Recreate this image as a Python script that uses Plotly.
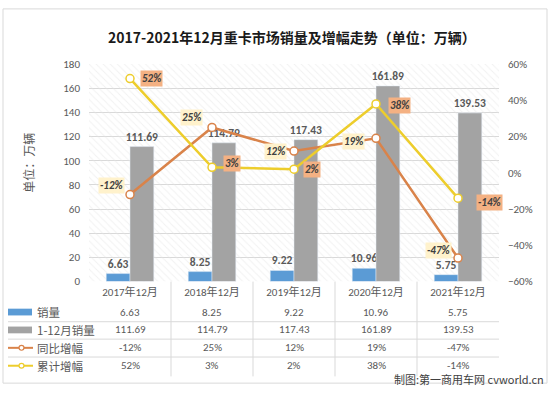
import plotly.graph_objects as go

# ---------------- data ----------------
categories = ["2017年12月", "2018年12月", "2019年12月", "2020年12月", "2021年12月"]
sales_dec = [6.63, 8.25, 9.22, 10.96, 5.75]
sales_ytd = [111.69, 114.79, 117.43, 161.89, 139.53]
yoy_growth = [-12, 25, 12, 19, -47]
cum_growth = [52, 3, 2, 38, -14]
series_names = ["销量", "1-12月销量", "同比增幅", "累计增幅"]
title_text = "2017-2021年12月重卡市场销量及增幅走势（单位：万辆）"
yaxis_title = "单位：万辆"
credit_text = "制图:第一商用车网 cvworld.cn"

# ---------------- styling ----------------
W, H = 550, 394
PX_L, PX_R, PX_T, PX_B = 89, 499, 60, 285
BLUE = "#5B9BD5"
GRAY = "#A3A3A3"
ORANGE = "#D9834A"
YELLOW = "#EDCD2C"
TXT = "#595959"
GRID = "#D9D9D9"
FONT = "Carlito, Lato, 'Noto Sans CJK SC', sans-serif"
CJK = "'Noto Sans CJK SC', sans-serif"

def px(x):
    return x / W

def py(y):
    return 1 - y / H

x_idx = list(range(len(categories)))
Y1_MAX = 180
Y2_MIN, Y2_MAX = -60, 60

fig = go.Figure()

# hatched plot background on a base subplot underneath everything
fig.add_trace(go.Scatter(
    x=[0, 1, 1, 0, 0], y=[0, 0, 1, 1, 0], xaxis="x3", yaxis="y3",
    fill="toself", mode="none", hoverinfo="skip", showlegend=False,
    fillcolor="rgba(0,0,0,0)",
    fillpattern=dict(shape="\\", fgcolor="#E4E4E4", size=5, solidity=0.2),
))

bar_font = dict(family=FONT, size=11.5, color=TXT, weight="bold")
fig.add_trace(go.Bar(
    x=x_idx, y=sales_dec, name=series_names[0], marker_color=BLUE,
    text=[f"{v:.2f}" for v in sales_dec], textposition="outside",
    textfont=bar_font, cliponaxis=False, constraintext="none",
))
fig.add_trace(go.Bar(
    x=x_idx, y=sales_ytd, name=series_names[1], marker_color=GRAY,
    text=[f"{v:.2f}" for v in sales_ytd], textposition="outside",
    textfont=bar_font, cliponaxis=False, constraintext="none",
))
fig.add_trace(go.Scatter(
    x=x_idx, y=yoy_growth, yaxis="y2", name=series_names[2],
    mode="lines+markers", line=dict(color=ORANGE, width=2.5),
    marker=dict(symbol="circle", size=8, color="white",
                line=dict(color=ORANGE, width=1.5)),
    cliponaxis=False,
))
fig.add_trace(go.Scatter(
    x=x_idx, y=cum_growth, yaxis="y2", name=series_names[3],
    mode="lines+markers", line=dict(color=YELLOW, width=2.5),
    marker=dict(symbol="circle", size=8, color="white",
                line=dict(color=YELLOW, width=1.5)),
    cliponaxis=False,
))

annotations = []
lab_font = dict(family=FONT, size=11, color="#404040", weight="bold", style="italic")
# label offsets (px) for the line labels
yoy_off = [(-19, 9), (-21, 10), (-19, 0), (-23, -3), (-20, 8)]
cum_off = [(21, 0), (20, 4), (18, 0), (23, -2), (31, -4)]
for i, v in enumerate(yoy_growth):
    annotations.append(dict(
        x=i, y=v, xref="x", yref="y2", text=f"{v}%", showarrow=False,
        xanchor="center", yanchor="middle",
        xshift=yoy_off[i][0], yshift=yoy_off[i][1], bgcolor="#FFF2CC",
        borderpad=1, font=lab_font))
for i, v in enumerate(cum_growth):
    annotations.append(dict(
        x=i, y=v, xref="x", yref="y2", text=f"{v}%", showarrow=False,
        xanchor="center", yanchor="middle",
        xshift=cum_off[i][0], yshift=cum_off[i][1], bgcolor="#F4B183",
        borderpad=1, font=lab_font))

# title
annotations.append(dict(
    x=px(292), y=py(32), xref="paper", yref="paper", text=title_text,
    xanchor="center", yanchor="middle", showarrow=False,
    font=dict(family=CJK, size=14, color="#1a1a1a", weight="bold")))
# y axis title
annotations.append(dict(
    x=px(29), y=py(162), xref="paper", yref="paper", text=yaxis_title,
    xanchor="center", yanchor="middle",
    textangle=-90, showarrow=False, font=dict(family=CJK, size=12, color=TXT)))

# data table
row_y = [316.5, 335, 353.5, 372]
row_vals = [
    [f"{v:.2f}" for v in sales_dec],
    [f"{v:.2f}" for v in sales_ytd],
    [f"{v}%" for v in yoy_growth],
    [f"{v}%" for v in cum_growth],
]
tbl_font = dict(family=FONT, size=11, color=TXT)
for r, vals in enumerate(row_vals):
    for i, t in enumerate(vals):
        annotations.append(dict(
            x=i, y=py(row_y[r]), xref="x", yref="paper", text=t,
            xanchor="center", yanchor="middle",
            showarrow=False, font=tbl_font))
    annotations.append(dict(
        x=px(35), y=py(row_y[r]), xref="paper", yref="paper",
        text=series_names[r], xanchor="left", yanchor="middle", showarrow=False,
        font=dict(family=CJK, size=11.5, color=TXT)))

shapes = []
# legend keys
shapes.append(dict(type="rect", xref="paper", yref="paper",
                   x0=px(8), x1=px(32), y0=py(320), y1=py(313),
                   fillcolor=BLUE, line=dict(width=0)))
shapes.append(dict(type="rect", xref="paper", yref="paper",
                   x0=px(8), x1=px(32), y0=py(338.5), y1=py(331.5),
                   fillcolor=GRAY, line=dict(width=0)))
for r, col in ((2, ORANGE), (3, YELLOW)):
    shapes.append(dict(type="line", xref="paper", yref="paper",
                       x0=px(8), x1=px(33), y0=py(row_y[r]), y1=py(row_y[r]),
                       line=dict(color=col, width=2)))
    shapes.append(dict(type="circle", xref="paper", yref="paper",
                       x0=px(19), x1=px(24), y0=py(row_y[r] + 2.5), y1=py(row_y[r] - 2.5),
                       fillcolor="white", line=dict(color=col, width=1.2)))
# table grid
for yl in (326.5, 344.5, 363):
    shapes.append(dict(type="line", xref="paper", yref="paper",
                       x0=px(8), x1=px(PX_R), y0=py(yl), y1=py(yl),
                       line=dict(color=GRID, width=1)))
for b in range(1, len(categories)):
    shapes.append(dict(type="line", xref="x", yref="paper",
                       x0=b - 0.5, x1=b - 0.5, y0=py(PX_B), y1=py(383),
                       line=dict(color=GRID, width=1)))
# outer border
shapes.append(dict(type="rect", xref="paper", yref="paper",
                   x0=px(3), x1=px(547), y0=py(390), y1=py(3),
                   line=dict(color="#D9D9D9", width=1), layer="below"))

annotations.append(dict(
    x=px(546), y=py(386), xref="paper", yref="paper", text=credit_text,
    xanchor="right", yanchor="middle", showarrow=False,
    font=dict(family=CJK, size=11, color="#404040")))

dom_x = [px(PX_L), px(PX_R)]
dom_y = [py(PX_B), py(PX_T)]
tick_font = dict(family=FONT, size=11, color=TXT)

fig.update_layout(
    width=W, height=H,
    margin=dict(l=0, r=0, t=0, b=0),
    paper_bgcolor="white", plot_bgcolor="rgba(0,0,0,0)",
    showlegend=False,
    barmode="group", bargap=0.42, bargroupgap=0,
    font=dict(family=FONT, color=TXT),
    xaxis3=dict(domain=dom_x, range=[0, 1], visible=False, fixedrange=True),
    yaxis3=dict(domain=dom_y, range=[0, 1], visible=False, fixedrange=True),
    xaxis=dict(overlaying="x3", domain=dom_x, range=[-0.5, len(categories) - 0.5],
               tickvals=x_idx, ticktext=categories, showgrid=False, zeroline=False,
               showline=False, ticks="", tickfont=tick_font, ticklabelstandoff=2),
    yaxis=dict(overlaying="y3", domain=dom_y, range=[0, Y1_MAX], dtick=20,
               showgrid=True, gridcolor=GRID, gridwidth=1, zeroline=False,
               ticks="", tickfont=tick_font, ticklabelstandoff=8),
    yaxis2=dict(overlaying="y3", side="right", range=[Y2_MIN, Y2_MAX], dtick=20,
                ticksuffix="%", showgrid=False, zeroline=False, ticks="",
                tickfont=tick_font, ticklabelstandoff=8),
    annotations=annotations,
    shapes=shapes,
)

fig.write_html("out.html", config={"displayModeBar": False},
               post_script="document.body.style.margin='0';")
